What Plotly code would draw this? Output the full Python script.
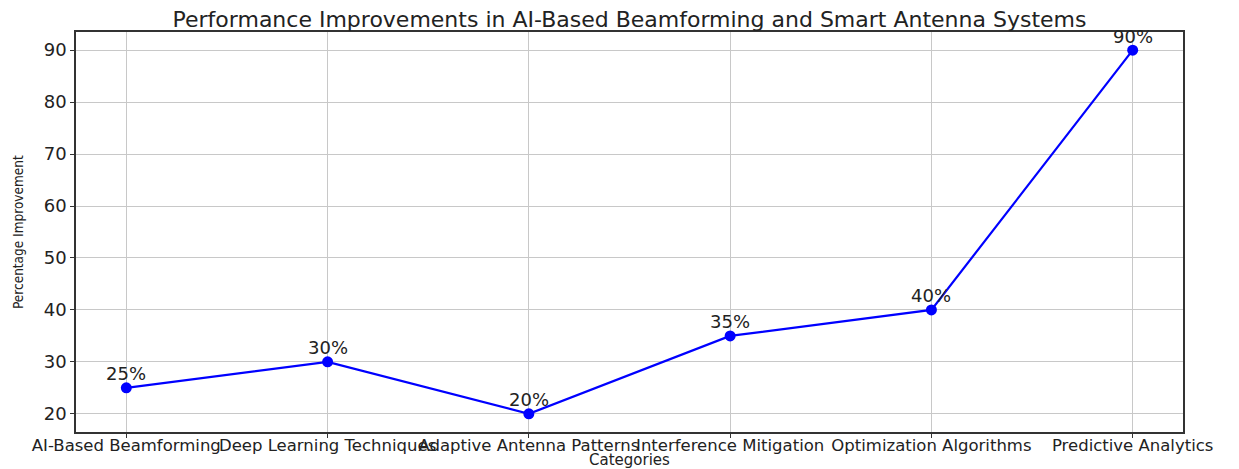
import plotly.graph_objects as go

categories = ["AI-Based Beamforming", "Deep Learning Techniques", "Adaptive Antenna Patterns",
              "Interference Mitigation", "Optimization Algorithms", "Predictive Analytics"]
values = [25, 30, 20, 35, 40, 90]
labels = [f"{v}%" for v in values]
y_ticks = [20, 30, 40, 50, 60, 70, 80, 90]

xpos = list(range(len(categories)))

fig = go.Figure()
fig.add_trace(go.Scatter(
    x=xpos, y=values, mode="lines+markers",
    line=dict(color="#0000ff", width=2.2),
    marker=dict(color="#0000ff", size=11),
    showlegend=False, hoverinfo="skip",
))

for xi, v, lab in zip(xpos, values, labels):
    fig.add_annotation(x=xi, y=v, text=lab, showarrow=False, yshift=14,
                       font=dict(family="DejaVu Sans", size=18, color="#222222"))

# axis titles as annotations for precise placement
fig.add_annotation(text="Categories", xref="paper", yref="paper", x=0.5, y=0,
                   xanchor="center", yanchor="middle", showarrow=False, yshift=-27.5,
                   font=dict(family="DejaVu Sans", size=15, color="#222222"))
fig.add_annotation(text="Percentage Improvement", xref="paper", yref="paper", x=0, y=0.5,
                   xanchor="center", yanchor="middle", xshift=-58, textangle=-90, showarrow=False,
                   font=dict(family="DejaVu Sans Condensed, Liberation Sans", size=13.5, color="#222222"))

fig.update_layout(
    width=1231, height=461,
    margin=dict(l=68, r=56, t=24, b=37),
    paper_bgcolor="white", plot_bgcolor="white",
    title=dict(text="Performance Improvements in AI-Based Beamforming and Smart Antenna Systems",
               x=0.5, xref="paper", xanchor="center", y=0.976, yref="container", yanchor="middle",
               font=dict(family="DejaVu Sans", size=22, color="#222222")),
    font=dict(family="DejaVu Sans", color="#222222"),
)
fig.update_xaxes(
    range=[-0.25, 5.25], tickmode="array", tickvals=xpos, ticktext=categories,
    tickangle=0, automargin=False, ticklabelstandoff=-7,
    tickfont=dict(family="DejaVu Sans", size=16.5, color="#222222"),
    showgrid=True, gridcolor="#c8c8c8", gridwidth=1.2,
    showline=True, linecolor="#333333", linewidth=1.5, mirror=True,
    ticks="outside", ticklen=4, tickcolor="#333333",
    zeroline=False,
)
fig.update_yaxes(
    range=[16.5, 93.5], tickmode="array", tickvals=y_ticks, automargin=False,
    tickfont=dict(family="DejaVu Sans", size=18, color="#222222"),
    showgrid=True, gridcolor="#c8c8c8", gridwidth=1.2,
    showline=True, linecolor="#333333", linewidth=1.5, mirror=True,
    ticks="outside", ticklen=4, tickcolor="#333333",
    zeroline=False,
)

fig.write_html("out.html")
